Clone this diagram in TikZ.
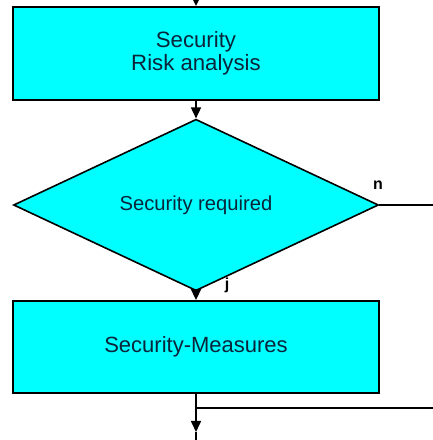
\documentclass[tikz,border=0pt]{standalone}
\usepackage{fontspec}
\setmainfont{Liberation Sans}
\usetikzlibrary{shapes.geometric,arrows.meta}
\definecolor{boxfill}{RGB}{0,255,255}
\definecolor{labeltext}{RGB}{10,36,58}
\tikzset{
  stepbox/.style={draw=black, line width=1.8pt, fill=boxfill, rectangle,
    minimum width=366pt, inner sep=0pt, text=labeltext, align=center},
  decision/.style={draw=black, line width=1.6pt, fill=boxfill, diamond,
    minimum width=365pt, minimum height=136pt, inner sep=0pt, text=labeltext,
    font=\fontsize{20.2}{23}\selectfont},
  flow/.style={draw=black, line width=1.6pt},
  flowarrow/.style={flow, -{Triangle[width=10pt,length=11pt]}},
  branch/.style={font=\bfseries\fontsize{16}{18}\selectfont, text=black, inner sep=0pt}
}
\begin{document}
\begin{tikzpicture}[x=1pt,y=1pt]
  \useasboundingbox (0,0) rectangle (433,440);

  % process steps and decision
  \node[stepbox, minimum height=93pt, font=\fontsize{22.2}{23}\selectfont]
    (risk) at (196,386.5) {Security\\Risk analysis};
  \node[decision] (dec) at (196,235) {Security required};
  \node[stepbox, minimum height=92pt, font=\fontsize{22}{24}\selectfont]
    (meas) at (196,93) {Security-Measures};

  % loose ends of the flow
  \coordinate (in)    at (196,440);
  \coordinate (noout) at (433,235);
  \coordinate (tip)   at (196,8);
  \coordinate (out)   at (196,0);
  \coordinate (join)  at (196,32);
  \coordinate (back)  at (433,32);

  % connectors
  \draw[flowarrow] (in) -- (risk.north);
  \draw[flowarrow] (risk.south) -- (dec.north);
  \draw[flowarrow] (dec.south) -- (meas.north);
  \draw[flow] (dec.east) -- (noout);
  \draw[flowarrow] (meas.south) -- (tip);
  \draw[flow] (tip) -- (out);
  \draw[flow] (join) -- (back);

  % branch labels
  \node[branch] (nlab) at (378,255) {n};
  \node[branch] (jlab) at (227,155) {j};
\end{tikzpicture}
\end{document}
